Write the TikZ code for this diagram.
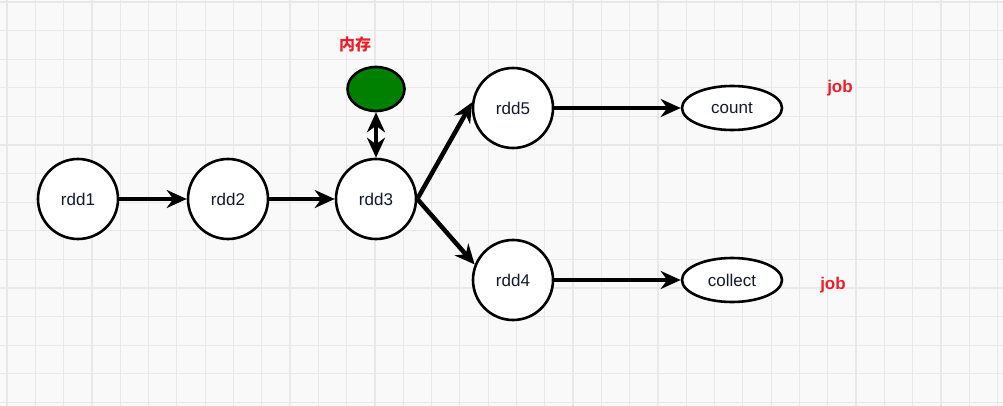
\documentclass[tikz,border=0pt]{standalone}
\usepackage{fontspec}
\setmainfont{Liberation Sans}
\newfontfamily\cjk{Noto Sans CJK SC}
\usetikzlibrary{arrows.meta,positioning,shapes.geometric}
\definecolor{gridbg}{RGB}{249,249,249}
\definecolor{gridline}{RGB}{232,232,232}
\definecolor{memgreen}{RGB}{0,128,0}
\definecolor{jobred}{RGB}{238,30,40}
\definecolor{inkdark}{RGB}{20,25,45}

\begin{document}
\begin{tikzpicture}[x=1pt, y=-1pt,
    rdd/.style={draw, circle, line width=2.6pt, fill=white,
                minimum size=80pt, inner sep=0pt, text=inkdark,
                font=\fontsize{17}{19}\selectfont},
    act/.style={draw, ellipse, line width=2.6pt, fill=white,
                minimum width=100pt, minimum height=44pt, inner sep=0pt,
                text=inkdark, font=\fontsize{17}{19}\selectfont},
    flow/.style={line width=4.5pt, -{Stealth[length=20pt,width=18pt]}},
    tag/.style={text=jobred, font=\bfseries\fontsize{17}{19}\selectfont},
]
\useasboundingbox (0,0) rectangle (1003,406);
\fill[gridbg] (0,0) rectangle (1003,406);
\foreach \i in {0,...,35}
    \draw[gridline, line width=1.2pt] ({7+28.3*\i},0) -- ++(0,406);
\foreach \j in {0,...,14}
    \draw[gridline, line width=1.2pt] (0,{2+28.6*\j}) -- ++(1003,0);

\node[rdd] (rdd1) at (78,199) {rdd1};
\node[rdd] (rdd2) at (228,199) {rdd2};
\node[rdd] (rdd3) at (376,199) {rdd3};
\node[rdd] (rdd5) at (513,108) {rdd5};
\node[rdd] (rdd4) at (513,280) {rdd4};

\node[draw, ellipse, line width=2.6pt, fill=memgreen,
      minimum width=57pt, minimum height=44pt] (mem) at (376,89) {};
\node[tag, font=\cjk\bfseries\fontsize{16}{18}\selectfont] (memtag) at (355,44) {内存};

\node[act] (cnt) at (732,108) {count};
\node[act] (col) at (732,280) {collect};
\node[tag] (job1) at (840,88) {job};
\node[tag] (job2) at (833,285) {job};

\draw[flow] (rdd1) -- (rdd2);
\draw[flow] (rdd2) -- (rdd3);
\draw[flow, {Stealth[length=20pt,width=18pt]}-{Stealth[length=20pt,width=18pt]}]
    (mem) -- (rdd3);
\draw[flow] (rdd3.east) -- (rdd5.172);
\draw[flow] (rdd3.east) -- (rdd4.158);
\draw[flow] (rdd5) -- (cnt);
\draw[flow] (rdd4) -- (col);
\end{tikzpicture}
\end{document}
